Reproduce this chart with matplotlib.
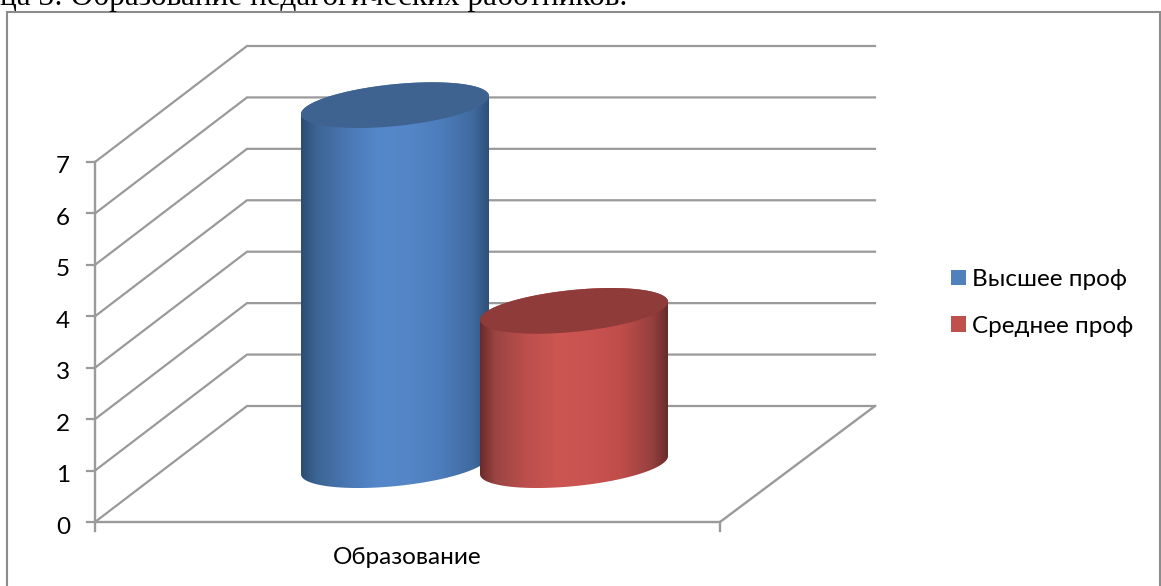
import numpy as np
import matplotlib
matplotlib.use("Agg")
import matplotlib.pyplot as plt
from matplotlib.colors import LinearSegmentedColormap
from matplotlib.patches import Polygon, Rectangle, Patch

plt.rcParams['font.family'] = ['Lato', 'Noto Sans', 'DejaVu Sans']

# data
categories = ["Образование"]
series_names = ["Высшее проф", "Среднее проф"]
series_values = [7, 3]
y_ticks = [0, 1, 2, 3, 4, 5, 6, 7]
caption = "ца 3: Образование педагогических работников."

# style
GRID = "#9a9a9a"
side_stops = [
    ["#2c4c74", "#3c6594", "#4a78b3", "#5588cb", "#5485c6", "#4c7cba", "#3f6a9e", "#2e4f78"],
    ["#6a2a2a", "#9a4543", "#bd4f4c", "#cc5652", "#c95350", "#c04d4a", "#95403e", "#692b2a"],
]
stop_pos = [0, 0.08, 0.25, 0.42, 0.58, 0.75, 0.92, 1]
top_colors = ["#3f6391", "#8f3b3a"]
legend_colors = ["#4f81bd", "#c0504d"]

W, H = 1161, 586
PX = 51.43            # pixels per value unit
Y0 = 522              # pixel row of value 0
DX, DY = 152, 116 / PX  # depth offset of the back wall
X0, X1 = 95, 720
FS = 17.5

fig = plt.figure(figsize=(W / 100, H / 100), dpi=100)
ax = fig.add_axes([0, 0, 1, 1])
ax.set_xlim(0, W)
ylim = ((Y0 - H) / PX, Y0 / PX)
ax.set_ylim(*ylim)
ax.axis("off")

# chart frame
ax.add_patch(Rectangle((6.5, ylim[0] - 1), W - 7.5, (Y0 - 12) / PX - ylim[0] + 1,
                       fc="white", ec="#8c8c8c", lw=1.5, zorder=0))

# walls
for v in y_ticks:
    ax.plot([X0, X0 + DX, X0 + DX + X1 - X0 + 3], [v, v + DY, v + DY], color=GRID, lw=1.6, zorder=1,
            solid_joinstyle="miter")
    ax.plot([X0 - 8, X0], [v, v], color=GRID, lw=1.6, zorder=1)
    ax.text(X0 - 32, v - 5 / PX, str(v), ha="center", va="center", fontsize=FS, color="black")
ax.plot([X0, X0], [-9 / PX, y_ticks[-1]], color=GRID, lw=1.7, zorder=1)
ax.plot([X0, X1, X1 + 155], [0, 0, DY], color=GRID, lw=1.7, zorder=1, solid_joinstyle="miter")
ax.plot([X1, X1], [0, -9 / PX], color=GRID, lw=1.7, zorder=1)

# cylinders
RX, A, B = 94, 9 / PX, 21 / PX
base_y = 0.49 * DY
centers_x = [395, 574]
t = np.linspace(0, 2 * np.pi, 241)
for i, val in enumerate(series_values):
    cx = centers_x[i]
    z = 2 + i
    ex = cx + RX * np.cos(t)
    eoff = A * np.cos(t) + B * np.sin(t)
    tt = np.linspace(np.pi, 2 * np.pi, 120)
    low_x = cx + RX * np.cos(tt)
    low_y = base_y + A * np.cos(tt) + B * np.sin(tt)
    ut = tt - np.pi
    up_x = cx + RX * np.cos(ut)
    up_y = base_y + val + A * np.cos(ut) + B * np.sin(ut)
    side = Polygon(np.column_stack([np.r_[low_x, up_x], np.r_[low_y, up_y]]),
                   closed=True, fc="none", ec="none", transform=ax.transData)
    ax.add_patch(side)
    cmap = LinearSegmentedColormap.from_list("c%d" % i, list(zip(stop_pos, side_stops[i])))
    im = ax.imshow(np.linspace(0, 1, 256).reshape(1, -1), cmap=cmap, aspect="auto",
                   extent=[cx - RX, cx + RX, base_y - 1, base_y + val + 1], zorder=z)
    im.set_clip_path(side)
    ax.fill(ex, base_y + val + eoff, color=top_colors[i], lw=0, zorder=z + 0.1)

ax.set_xlim(0, W)
ax.set_ylim(*ylim)

# category label
ax.text(407, (Y0 - 557) / PX, categories[0], ha="center", va="center", fontsize=FS, color="black")

# caption of the page, cut by the top edge
ax.text(0, (Y0 - 5) / PX, caption, ha="left", va="baseline", fontsize=22.5,
        family=["Liberation Serif"], color="black", clip_on=False)

# legend
handles = [Patch(fc=c, ec="none", label=n) for c, n in zip(legend_colors, series_names)]
ax.legend(handles=handles, loc="center left", bbox_to_anchor=(943.5 / W, 1 - 303 / H),
          bbox_transform=fig.transFigure, frameon=False, fontsize=FS,
          handlelength=0.62, handleheight=0.62, handletextpad=0.27,
          labelspacing=1.06, borderpad=0.3, borderaxespad=0)

fig.savefig("out.png", dpi=100)
